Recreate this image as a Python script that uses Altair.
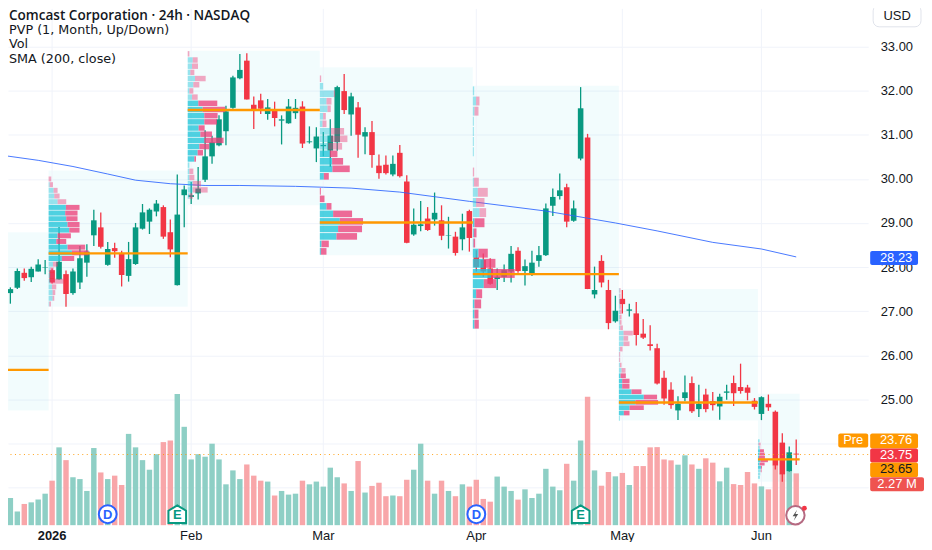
import altair as alt
import pandas as pd

opens = [27.62,27.41,27.53,27.87,27.77,27.90,27.99,27.93,27.72,27.84,27.41,27.65,28.10,28.72,28.90,28.05,28.43,28.30,27.80,28.07,28.87,29.03,29.26,29.36,28.79,27.59,29.63,29.59,29.67,29.98,30.51,30.76,31.08,31.61,32.28,32.68,31.68,31.78,31.47,31.55,31.32,31.26,31.49,31.64,30.83,30.69,30.74,30.64,30.83,31.99,31.46,31.62,30.96,31.06,30.30,30.32,30.10,30.59,29.94,28.74,28.93,29.10,29.08,29.06,28.71,28.69,28.63,29.27,28.22,28.16,27.97,27.73,27.78,27.90,28.37,27.91,27.86,28.14,28.27,29.39,29.61,29.81,29.05,30.46,30.94,27.38,28.14,27.48,26.77,27.28,27.01,26.95,26.49,26.25,26.16,25.49,25.22,24.75,25.03,25.37,24.78,25.11,24.96,24.84,25.15,25.37,25.28,25.27,24.97,24.67,24.90,24.72,24.02,23.37,23.77]
closes = [27.37,27.50,27.91,27.75,27.96,28.06,28.00,27.65,28.12,27.39,27.90,28.20,28.35,29.06,28.46,28.41,28.36,27.82,28.18,28.90,29.24,29.30,29.44,28.69,28.40,29.19,29.76,29.63,29.78,30.51,30.83,31.35,31.53,32.30,32.47,31.80,31.57,31.59,31.62,31.38,31.35,31.64,31.61,30.80,30.85,30.96,30.77,30.98,32.08,31.56,31.87,31.00,31.06,30.54,30.13,30.13,30.34,30.06,28.55,28.96,28.97,28.84,29.23,28.71,28.72,28.32,28.90,28.66,28.00,27.90,27.62,27.78,27.93,28.30,27.91,28.02,28.10,28.27,29.33,29.59,29.74,29.03,29.33,31.60,27.50,27.48,27.65,26.73,27.01,27.16,27.04,26.46,26.40,26.21,25.36,25.02,24.87,24.90,25.16,24.73,24.90,24.78,24.87,25.06,25.18,25.14,25.19,25.15,24.83,25.05,24.82,23.50,23.30,23.80,23.75]
highs = [27.91,27.54,27.97,27.97,28.01,28.18,28.16,27.97,28.91,27.92,27.97,28.48,28.52,29.30,29.24,28.57,28.55,28.37,28.57,29.00,29.43,29.33,29.52,29.40,29.08,30.10,29.85,29.93,30.27,31.10,30.98,31.44,31.66,32.34,32.83,32.85,31.87,31.93,31.81,31.75,31.44,31.81,31.81,31.76,31.19,31.17,31.06,31.35,32.11,32.38,31.95,31.74,31.17,31.31,30.55,30.53,30.53,30.77,30.08,29.33,29.50,29.36,29.69,29.40,29.14,28.80,29.21,29.30,28.38,28.31,28.20,27.97,28.06,28.48,28.45,28.17,28.37,28.48,29.44,29.78,30.12,29.89,29.51,32.08,31.02,28.01,28.27,27.71,27.35,27.48,27.17,27.21,26.82,26.68,26.26,25.65,25.39,25.07,25.54,25.52,25.33,25.24,25.17,25.13,25.33,25.54,25.81,25.33,25.03,25.07,25.11,24.75,24.23,23.93,24.09]
lows = [27.35,27.17,27.50,27.69,27.66,27.90,27.84,27.63,27.71,27.10,27.37,27.50,27.78,28.48,28.42,28.03,28.21,27.56,27.67,28.05,28.85,28.75,29.15,28.64,28.22,27.58,28.90,29.43,29.53,29.93,30.34,30.74,30.76,31.59,32.26,31.80,31.13,31.47,31.34,31.19,30.78,31.25,31.36,30.70,30.80,30.38,30.51,30.27,30.64,31.47,30.98,30.48,30.56,30.25,30.00,30.10,30.06,30.03,28.54,28.71,28.81,28.82,28.94,28.61,28.42,28.26,28.38,28.35,27.90,27.78,27.60,27.48,27.66,27.65,27.87,27.58,27.80,28.01,28.25,29.16,29.53,28.90,29.03,30.42,27.50,27.29,27.54,26.59,26.74,26.95,26.88,26.22,26.37,26.11,25.34,24.88,24.79,24.53,24.96,24.69,24.60,24.71,24.75,24.54,24.99,24.85,25.13,24.98,24.77,24.53,24.74,23.41,23.13,23.36,23.51]
volumes = [1.95,1.19,0.60,0.93,1.00,1.12,1.38,1.95,3.41,2.85,2.10,2.02,1.50,3.38,2.31,2.02,2.17,1.76,4.00,3.41,2.85,2.43,3.11,3.64,3.71,5.75,4.31,2.88,3.11,3.00,3.57,2.88,1.79,2.40,2.02,2.66,2.17,1.95,1.91,1.30,1.50,1.34,1.38,1.95,1.79,1.91,1.69,2.52,2.10,1.83,1.50,2.81,1.43,1.72,1.86,1.27,1.30,1.27,1.99,2.43,3.57,1.95,1.38,1.95,1.50,1.27,1.79,1.69,1.99,1.15,1.03,2.13,1.69,1.50,1.12,1.57,1.19,1.38,2.47,1.69,1.53,2.69,1.95,3.71,5.63,2.40,1.73,2.33,2.14,2.29,1.76,2.59,2.59,3.41,3.42,2.88,2.84,2.65,3.06,2.66,2.47,2.93,2.74,1.92,2.52,1.80,1.76,2.33,1.83,1.70,1.57,2.62,2.26,2.36,2.27]

sma_idx = [0,5,10,15,19,24,29,34,42,46,50,57,67,78,88,94,102,109,114]
sma_val = [30.53,30.42,30.28,30.11,29.97,29.89,29.85,29.85,29.83,29.81,29.79,29.70,29.49,29.27,29.00,28.82,28.56,28.41,28.23]

tick_idx = [7,27,46,68,89,109]
tick_lab = ["2026","Feb","Mar","Apr","May","Jun"]
price_ticks = [23,24,25,26,27,28,29,30,31,32,33]

# session: start, end, bg top, bg bottom, POC
s_start = [0.66,6.5,26.5,45.5,67.5,88.5,108.5]
s_end   = [6.5,26.5,45.5,67.5,88.5,108.5,114.5]
s_top   = [28.79,30.19,32.905,32.53,32.11,27.50,25.13]
s_bot   = [24.75,27.10,29.40,28.27,26.59,24.52,23.135]
s_poc   = [25.67,28.31,31.56,29.01,27.84,24.93,23.64]

# profile rows: session index, top price, bottom price, value-area first/last row, up, down
profiles = [
 (1,30.19,27.10,6,15,
  [0,0,3,15,17,27,52,50,53,57,62,27,23,57,70,40,13,5,5,5,10,12,12,2],
  [0,8,10,12,16,26,41,37,34,36,31,40,30,53,50,37,15,10,12,40,13,8,5,5]),
 (2,32.905,29.54,8,17,
  [0,15,13,8,22,17,5,13,32,45,50,50,33,38,50,35,30,20,5,5,5,15,15,5],
  [5,15,18,12,32,18,12,17,57,68,40,38,18,35,58,30,16,5,0,12,15,25,45,10]),
 (3,32.355,28.27,10,23,
  [0,10,42,20,23,10,8,33,33,25,30,37,38,12,0,0,0,20,40,60,55,50,5,3],
  [4,0,4,15,10,8,12,40,50,42,23,33,52,15,0,3,14,15,57,70,72,62,22,17]),
 (4,32.11,26.59,13,23,
  [4,10,5,3,3,3,3,0,0,3,15,10,20,5,3,2,17,33,55,33,10,5,5,5],
  [0,10,12,0,0,0,0,0,4,15,30,25,20,30,8,5,28,35,71,37,18,20,12,13]),
 (5,27.53,24.51,16,23,
  [2,2,3,3,3,3,3,4,14,14,14,3,1,1,3,8,5,10,10,38,75,50,32,15,3],
  [3,3,4,4,5,5,5,8,28,14,18,8,3,3,5,12,16,22,22,30,40,68,43,17,0]),
 (6,24.10,23.195,3,8,
  [5,2,5,6,5,3,8,5,9,8,7,6],
  [0,6,2,12,15,18,22,15,3,4,0,0]),
]
PROFILE_UNIT = 1/20.93

UP, DOWN = "#089981", "#F23645"
df = pd.DataFrame({"i":range(len(opens)),"o":opens,"c":closes,"h":highs,"l":lows,"v":volumes})
df["col"] = [UP if c>=o else DOWN for o,c in zip(opens,closes)]
df["vcol"] = ["#8ECFC5" if c>=o else "#F8A6A9" for o,c in zip(opens,closes)]
df["x1"], df["x2"] = df.i-0.4, df.i+0.4
df["vx1"], df["vx2"] = df.i-0.39, df.i+0.39
df["v0"] = 0.0

rows = []
for s,top,bot,va0,va1,ups,dns in profiles:
    n = len(ups); h = (top-bot)/n
    for k,(u,d) in enumerate(zip(ups,dns)):
        y1 = top-h*k-0.06*h; y2 = top-h*(k+1)+0.06*h
        a = s_start[s]; b = a+u*PROFILE_UNIT; e = b+d*PROFILE_UNIT
        va = va0<=k<=va1
        if u>0: rows.append(dict(a=a,b=b,y1=y1,y2=y2,col="#26C6DA",op=0.8 if va else 0.45))
        if d>0: rows.append(dict(a=b,b=e,y1=y1,y2=y2,col="#EC407A",op=0.78 if va else 0.45))
rows = pd.DataFrame(rows)
sess = pd.DataFrame({"a":s_start,"b":s_end,"t":s_top,"u":s_bot,"p":s_poc})
sma = pd.DataFrame({"i":sma_idx,"y":sma_val})
events = pd.DataFrame({"i":[15,25,68,83],"k":["D","E","D","E"]})
last = pd.DataFrame({"y":[23.75]})
ticks = pd.DataFrame({"i":tick_idx,"t":tick_lab,"w":["bold"]+["normal"]*5})

XS = alt.Scale(domain=[0.659,124.35],nice=False,zero=False)
YS = alt.Scale(domain=[22.148,33.854],nice=False,zero=False)
VS = alt.Scale(domain=[0,22.62],nice=False,zero=False)
X = lambda f: alt.X(f,type="quantitative",scale=XS,axis=None)
Y = lambda f: alt.Y(f,type="quantitative",scale=YS,axis=None)
FONT = "Liberation Sans"

axes = alt.Chart(sess).mark_rect(color="#00BCD4",opacity=0.05).encode(
    x=X("a"),
    x2="b:Q",
    y=alt.Y("t:Q",scale=YS,axis=alt.Axis(orient="right",values=price_ticks,
        labelExpr="datum.value >= 25 ? format(datum.value, '.2f') : ''",title=None,grid=True,gridColor="#F0F3FA",
        domain=False,ticks=False,labelPadding=12,labelFont=FONT,labelFontSize=13,labelColor="#131722",labelOverlap=False)),
    y2="u:Q")
vgrid = alt.Chart(ticks).mark_rule(color="#F0F3FA",strokeWidth=1).encode(x=X("i"))
xlab = alt.Chart(ticks[ticks.w=="normal"]).mark_text(font=FONT,fontSize=13,color="#131722",align="center",baseline="middle").encode(
    x=X("i"),y=alt.value(529),text="t:N")
xlab0 = alt.Chart(ticks[ticks.w=="bold"]).mark_text(font=FONT,fontSize=13,fontWeight="bold",color="#131722",align="center",baseline="middle").encode(
    x=X("i"),y=alt.value(529),text="t:N")

vol = alt.Chart(df).mark_rect().encode(x=X("vx1"),x2="vx2:Q",
    y=alt.Y("v:Q",scale=VS,axis=None),y2="v0:Q",color=alt.Color("vcol:N",scale=None))
wick = alt.Chart(df).mark_rule(strokeWidth=1.3).encode(x=X("i"),y=Y("l"),y2="h:Q",color=alt.Color("col:N",scale=None))
body = alt.Chart(df).mark_rect().encode(x=X("x1"),x2="x2:Q",y=Y("o"),y2="c:Q",color=alt.Color("col:N",scale=None))
sline = alt.Chart(sma).mark_line(color="#2962FF",strokeWidth=1,opacity=0.85).encode(x=X("i"),y=Y("y"))
prof = alt.Chart(rows).mark_rect().encode(x=X("a"),x2="b:Q",y=Y("y1"),y2="y2:Q",
    color=alt.Color("col:N",scale=None),opacity=alt.Opacity("op:Q",scale=None))
poc = alt.Chart(sess).mark_rule(color="#FF9800",strokeWidth=2.4).encode(x=X("a"),x2="b:Q",y=Y("p"))
dots = alt.Chart(last).mark_rule(color="#FF9800",strokeWidth=1,strokeDash=[1,3.5],opacity=0.9).encode(y=Y("y"))

HOUSE = "M0,-0.5 L0.5,-0.2 L0.5,0.5 L-0.5,0.5 L-0.5,-0.2 Z"
ev = alt.Chart(events)
ev_d = ev.transform_filter("datum.k=='D'").mark_point(shape="circle",filled=True,fill="#fff",stroke="#2962FF",strokeWidth=2,opacity=1,size=320).encode(x=X("i"),y=alt.value(507))
ev_e = ev.transform_filter("datum.k=='E'").mark_point(shape=HOUSE,filled=True,fill="#fff",stroke=UP,strokeWidth=2,opacity=1,size=1250).encode(x=X("i"),y=alt.value(507))
ev_t = ev.mark_text(font=FONT,fontSize=13,fontWeight="bold",align="center",baseline="middle").encode(x=X("i"),y=alt.value(507.5),text="k:N",
    color=alt.Color("k:N",scale=alt.Scale(domain=["D","E"],range=["#2962FF",UP]),legend=None))

def rect(x1,x2,y1,y2,color,**kw):
    return alt.Chart(last).mark_rect(color=color,cornerRadius=2,**kw).encode(
        x=alt.value(x1-8),x2=alt.value(x2-8),y=alt.value(y1-8),y2=alt.value(y2-8))
def text(x,y,s,color="#131722",size=13,align="left",font=FONT,weight="normal"):
    return alt.Chart(last).mark_text(color=color,fontSize=size,align=align,baseline="middle",font=font,fontWeight=weight).encode(
        x=alt.value(x-8),y=alt.value(y-8),text=alt.value(s))

overlays = [
    text(9,15,"Comcast Corporation · 24h · NASDAQ",font="Open Sans",weight=600,size=13.6),
    text(9,29,"PVP (1, Month, Up/Down)",font="DejaVu Sans",size=12.8),
    text(9,43.3,"Vol",font="DejaVu Sans",size=12.8),
    text(9,58.3,"SMA (200, close)",font="DejaVu Sans",size=12.8),
    alt.Chart(last).mark_rect(fill="#fff",stroke="#E0E3EB",cornerRadius=6).encode(x=alt.value(868),x2=alt.value(916),y=alt.value(-4),y2=alt.value(18)),
    text(900,15,"USD",align="center"),
    rect(873,921,251,265,"#2962FF"), text(899,258,"28.23","#fff",align="center"),
    rect(841,871,434,448,"#FF9800"), text(856,441,"Pre","#fff",align="center"),
    rect(873,921,434,449,"#FF9800"), text(899,441,"23.76","#fff",align="center"),
    rect(873,921,449,463,"#F23645"), text(899,456,"23.75","#fff",align="center"),
    rect(873,921,463,478,"#FF9800"), text(899,470,"23.65","#131722",align="center"),
    rect(873,927,478,492,"#EF5350"), text(900,485,"2.27 M","#fff",align="center"),
    alt.Chart(last).mark_point(shape="circle",filled=True,fill="#fff",stroke="#B56A82",strokeWidth=2,opacity=1,size=340).encode(x=alt.value(790),y=alt.value(508)),
    alt.Chart(last).mark_point(shape="M0.15,-0.5 L-0.25,0.1 L0,0.1 L-0.15,0.5 L0.25,-0.1 L0,-0.1 Z",filled=True,color="#555",opacity=1,size=500).encode(x=alt.value(790),y=alt.value(508)),
    alt.Chart(last).mark_point(shape="circle",filled=True,color="#F23645",opacity=1,size=24).encode(x=alt.value(799),y=alt.value(501)),
]

chart = alt.layer(axes,vgrid,xlab,xlab0,vol,wick,body,sline,prof,poc,dots,ev_d,ev_e,ev_t,*overlays).resolve_scale(y="independent",color="independent").properties(
    width=863,height=518,autosize=alt.AutoSizeParams(type="none"),
    padding={"left":0,"top":0,"right":56,"bottom":16},background="#ffffff"
).configure_view(stroke=None)
chart.save("out.html",embed_options={"renderer":"svg","actions":False})
